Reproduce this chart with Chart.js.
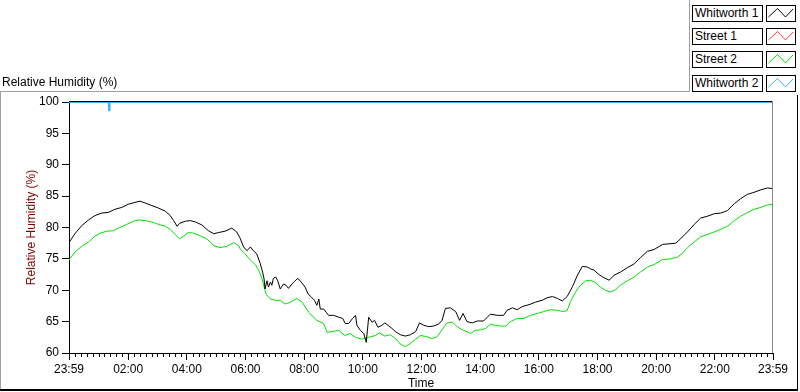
<!DOCTYPE html>
<html><head><meta charset="utf-8">
<script src="https://cdn.jsdelivr.net/npm/chart.js@4"></script>
<style>
html,body{margin:0;padding:0;background:#fff;}
#wrap{position:relative;width:800px;height:392px;overflow:hidden;font-family:"Liberation Sans",Arial,sans-serif;font-size:12px;color:#000;}
#c{position:absolute;left:0;top:0;}
.ptitle{position:absolute;left:2px;top:75px;line-height:14px;white-space:nowrap;}
.lgt{position:absolute;left:692px;width:71px;height:17px;border:1px solid #000;background:#fff;box-sizing:border-box;line-height:15px;padding-left:2px;white-space:nowrap;}
.lgi{position:absolute;left:766px;width:30px;height:17px;border:1px solid #000;background:#fff;box-sizing:border-box;}
.lgi svg{position:absolute;left:0;top:0;}
</style></head>
<body><div id="wrap"><canvas id="c" width="800" height="392"></canvas><div class="ptitle">Relative Humidity (%)</div></div>
<script>
// ---- data ----
const seriesNames = ['Whitworth 1', 'Street 1', 'Street 2', 'Whitworth 2'];
const xTickValues = [0,121,241,361,481,601,721,841,961,1081,1201,1321,1440];
const xTickLabels = ['23:59','02:00','04:00','06:00','08:00','10:00','12:00','14:00','16:00','18:00','20:00','22:00','23:59'];
const yTickMin = 60, yTickMax = 100, yTickStep = 5;

const w1Time = [0,12,26,40,53,67,80,94,108,121,135,145,156,169,183,197,207,214,221,227,238,248,258,272,285,296,306,319,333,343,350,357,364,371,377,384,
  391,396,399,401,405,408,412,415,418,423,427,432,439,444,449,456,461,468,475,483,489,496,502,507,511,514,521,526,531,541,552,560,565,572,580,586,589,596,603,608,613,620,625,632,640,646,
  661,668,678,688,698,709,717,726,736,746,756,763,770,780,791,799,806,814,825,835,848,862,876,889,896,907,917,927,941,954,968,978,989,999,1009,1019,1030,1040,1050,1060,1067,1074,1084,1094,1105,1115,1128,1142,1156,1169,1183,1197,1214,1227,1241,1251,1265,1279,1292,1306,1320,1333,1347,1361,1374,1388,1401,1415,1429,1440];
const w1Values = [77.6,79.0,80.3,81.2,81.9,82.3,82.4,82.9,83.2,83.7,84.0,84.2,83.9,83.5,83.1,82.6,81.9,81.1,80.2,80.7,81.0,81.1,80.9,80.4,79.5,79.0,79.2,79.4,79.9,79.3,78.3,76.9,76.3,76.9,76.3,75.8,
  74.3,72.9,71.8,70.2,71.5,70.5,71.3,70.8,71.9,72.1,71.5,70.2,71.0,70.8,70.3,71.0,71.4,71.9,71.3,70.5,69.4,68.9,68.4,67.6,68.6,67.0,67.0,66.5,66.0,66.0,65.7,65.5,64.7,64.7,65.5,66.0,64.4,63.6,63.1,61.7,65.7,64.9,65.2,64.1,64.4,64.8,
  63.9,63.4,62.9,62.7,62.9,63.4,64.8,64.4,64.2,64.3,64.6,65.2,67.1,67.2,66.6,65.2,66.3,65.0,64.8,65.1,65.1,66.2,66.0,66.0,66.8,67.2,66.9,67.4,67.7,68.1,68.4,68.8,69.0,68.7,68.3,69.0,70.6,72.4,73.8,73.7,73.4,73.2,72.5,72.0,71.6,72.4,72.9,73.6,74.2,75.2,76.2,76.5,77.3,77.4,77.5,78.2,79.3,80.5,81.5,81.8,82.2,82.3,82.7,83.8,84.6,85.3,85.6,86.0,86.3,86.2];

const s1Time = [];
const s1Values = [];

const s2Time = [0,12,26,40,53,64,77,91,104,118,132,142,156,169,183,197,207,217,226,234,244,255,268,282,296,309,323,337,347,350,360,371,
  381,388,395,403,412,422,432,442,453,466,477,490,507,521,528,538,552,564,575,586,599,613,627,635,646,
  657,668,678,688,698,709,719,732,743,753,763,773,784,794,804,814,821,831,842,852,862,872,883,893,903,917,930,944,958,971,985,999,1012,1019,1026,1036,1046,1057,1067,1077,1087,1097,1108,1118,1128,1142,1156,1169,1183,1197,1214,1231,1245,1255,1265,1279,1292,1306,1320,1333,1347,1361,1374,1388,1401,1415,1429,1440];
const s2Values = [74.8,76.1,77.0,77.7,78.6,79.1,79.4,79.5,80.0,80.5,81.0,81.2,81.1,80.9,80.5,80.2,79.7,78.9,78.2,78.6,79.2,79.1,78.7,78.2,77.1,76.8,77.0,77.6,77.1,76.6,75.8,74.8,
  74.1,73.2,71.8,69.4,68.6,68.4,68.4,67.8,68.1,68.7,68.1,66.5,65.2,64.7,63.3,63.4,63.6,62.8,63.1,62.5,62.2,62.5,62.8,63.2,62.7,
  62.9,62.3,61.4,61.0,61.5,62.2,62.8,62.6,62.3,62.6,63.7,64.8,64.9,64.2,63.7,63.4,63.1,63.6,63.7,63.9,64.6,64.4,64.3,64.3,65.0,65.5,65.5,66.0,66.3,66.6,66.9,66.8,66.6,66.8,68.2,69.7,70.8,71.5,71.6,71.2,70.5,70.0,69.7,70.1,70.8,71.5,72.1,72.9,73.7,74.1,74.9,75.0,75.3,75.9,76.8,77.7,78.5,78.9,79.3,79.7,80.2,81.1,81.8,82.4,82.9,83.2,83.6,83.7];

const w2Time = [0,81,82,83,1440];
const w2Values = [100,100,98.7,100,100];

// ---- styles ----
const colors = ['#000000', '#ff3c3c', '#00e000', '#3cb4f0'];
const widths = [1, 1, 1, 2];

const toPts = (t, v) => t.map((x, i) => ({x: x, y: v[i]}));
const seriesData = [toPts(w1Time, w1Values), toPts(s1Time, s1Values), toPts(s2Time, s2Values), toPts(w2Time, w2Values)];

// legend
const wrap = document.getElementById('wrap');
const rowTops = [5, 28, 51, 75];
seriesNames.forEach((n, i) => {
  const t = document.createElement('div');
  t.className = 'lgt'; t.style.top = rowTops[i] + 'px'; t.textContent = n;
  wrap.appendChild(t);
  const ic = document.createElement('div');
  ic.className = 'lgi'; ic.style.top = rowTops[i] + 'px';
  ic.innerHTML = '<svg width="28" height="15"><polyline points="1.5,11 10.5,2.5 18.5,11 26,3" fill="none" stroke="' + colors[i] + '" stroke-width="1"/></svg>';
  wrap.appendChild(ic);
});

const framePlugin = {
  id: 'frame',
  afterDraw(chart) {
    const {ctx, chartArea: a} = chart;
    const xs = chart.scales.x;
    ctx.save();
    ctx.fillStyle = '#000';
    ctx.fillRect(a.left, a.top - 1, a.right - a.left, 1);
    ctx.fillStyle = '#8a8a8a';
    ctx.fillRect(Math.round(a.right) - 1, a.top - 1, 1, a.bottom - a.top + 1);
    ctx.fillStyle = '#000';
    for (let i = 0; i < xTickValues.length - 1; i++) {
      for (let j = 1; j < 10; j++) {
        const v = xTickValues[i] + (xTickValues[i + 1] - xTickValues[i]) * j / 10;
        const px = Math.round(xs.getPixelForValue(v));
        ctx.fillRect(px, Math.round(a.bottom), 1, 4);
      }
    }
    ctx.fillStyle = '#a0a0a0';
    ctx.fillRect(0, 91, 690, 1);
    ctx.fillRect(0, 91, 1, 299);
    ctx.fillRect(689, 0, 1, 92);
    ctx.fillStyle = '#000';
    ctx.fillRect(0, 389, 798, 2);
    ctx.fillRect(797, 95, 1, 296);
    ctx.restore();
  }
};

const font = {family: '"Liberation Sans", Arial, sans-serif', size: 12};

new Chart(document.getElementById('c'), {
  type: 'line',
  data: {
    datasets: seriesNames.map((n, i) => ({
      label: n, data: seriesData[i], borderColor: colors[i], backgroundColor: colors[i],
      borderWidth: widths[i], pointRadius: 0, tension: 0, fill: false
    }))
  },
  options: {
    responsive: false, animation: false, events: [],
    layout: {padding: {left: 0, top: 102, right: 27, bottom: 0}},
    plugins: {legend: {display: false}, tooltip: {enabled: false}, title: {display: false}},
    scales: {
      x: {
        type: 'linear', min: 0, max: 1440,
        afterBuildTicks: s => { s.ticks = xTickValues.map(v => ({value: v})); },
        afterFit: s => { s.height = 39; },
        ticks: {autoSkip: false, maxRotation: 0, minRotation: 0, padding: 2, color: '#000', font: font,
          callback: (v, i) => xTickLabels[i]},
        grid: {drawOnChartArea: false, drawTicks: true, tickLength: 7, tickColor: '#000', color: '#000'},
        border: {display: true, color: '#000', width: 1},
        title: {display: true, text: 'Time', color: '#000', font: font, padding: {top: 0, bottom: 1}}
      },
      y: {
        type: 'linear', min: yTickMin, max: yTickMax,
        afterFit: s => { s.width = 69; },
        ticks: {stepSize: yTickStep, padding: 3, color: '#000', font: font},
        grid: {drawOnChartArea: false, drawTicks: true, tickLength: 7, tickColor: '#000', color: '#000'},
        border: {display: true, color: '#000', width: 1},
        title: {display: true, text: 'Relative Humidity (%)', color: '#800000', font: font, padding: {top: 24, bottom: 0}}
      }
    }
  },
  plugins: [framePlugin]
});
</script></body></html>
